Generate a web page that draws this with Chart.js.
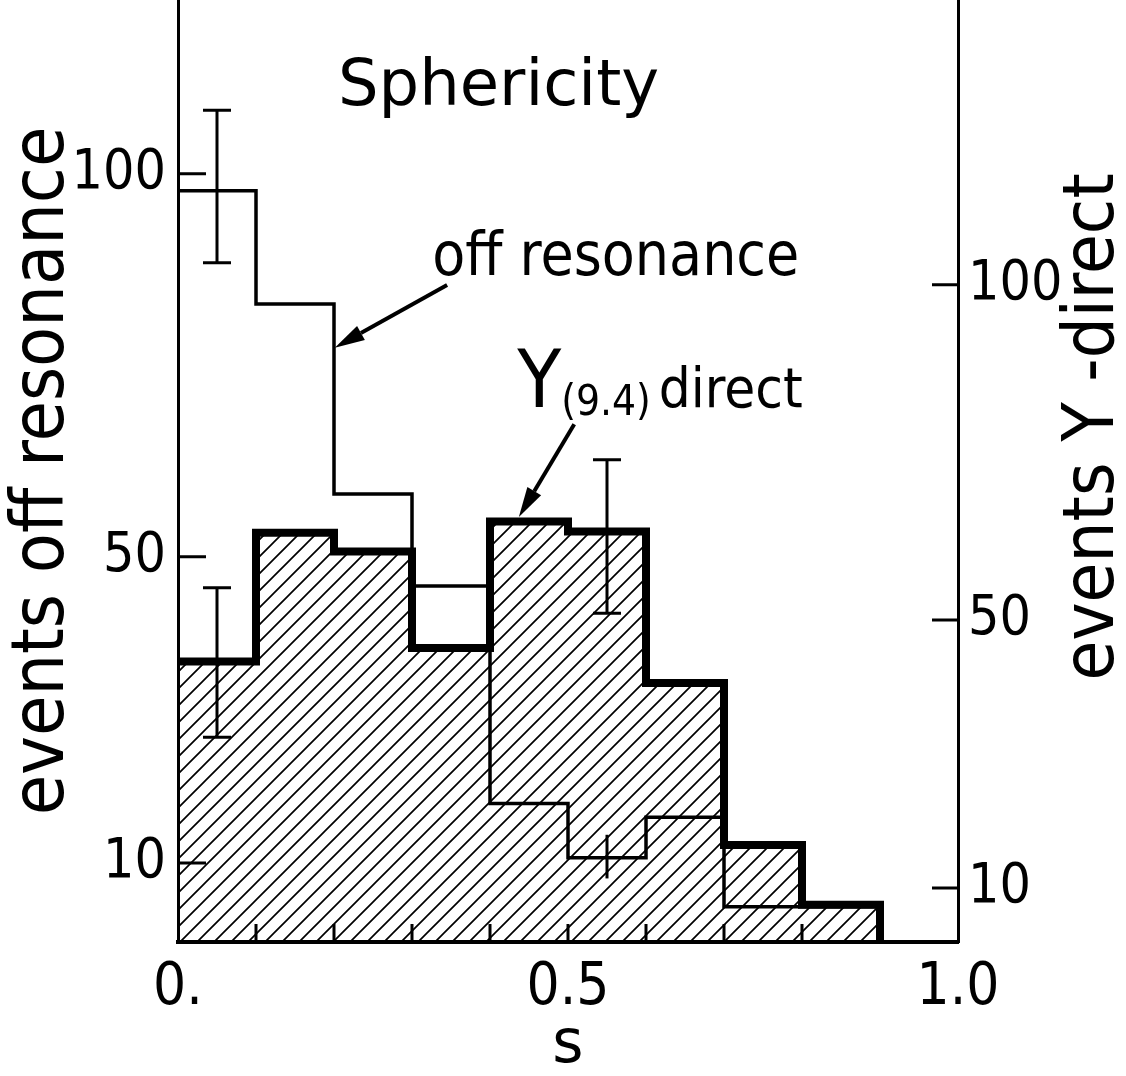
<!DOCTYPE html>
<html>
<head>
<meta charset="utf-8">
<script src="https://cdn.jsdelivr.net/npm/chart.js@4.4.1/dist/chart.umd.min.js"></script>
<style>
html, body { margin: 0; padding: 0; background: #fff; }
#wrap { width: 1126px; height: 1076px; }
</style>
</head>
<body>
<div id="wrap"><canvas id="sphericity"></canvas></div>
<script>
// Bin edges in sphericity s (bins are 0.1 wide).
var binEdges = [ 0, 0.1, 0.2, 0.3, 0.4, 0.5, 0.6, 0.7, 0.8, 0.9, 1.0 ];

// Events per bin, off resonance (left axis).
var offResonance = [ 97.8, 83.0, 58.2, 46.2, 17.8, 10.7, 16.0, 4.3, 4.3, 0 ];

// Events per bin, Upsilon(9.4) direct (right axis).
var upsilonDirect = [ 43.8, 63.0, 60.2, 45.8, 64.7, 63.2, 40.6, 16.4, 7.5, 0 ];

// Error bars: position in s, axis, low and high end.
var errS    = [ 0.05, 0.05, 0.55, 0.55 ];
var errAxis = [ 'y', 'y1', 'y1', 'y' ];
var errLow  = [ 88.4, 32.5, 51.0, 8.0 ];
var errHigh = [ 108.3, 54.8, 73.9, 13.7 ];
var errCap  = [ true, true, true, false ];

// Tick labels.
var leftTicks   = [ 10, 50, 100 ];
var rightTicks  = [ 10, 50, 100 ];
var xTicks      = [ 0, 0.5, 1.0 ];
var xTickLabels = [ '0.', '0.5', '1.0' ];

var titleText  = 'Sphericity';
var leftTitle  = 'events off resonance';
var rightTitle = 'events \u03A5 -direct';
var xTitle     = 's';

var FONT      = "'DejaVu Sans Condensed', 'DejaVu Sans', sans-serif";
var TICK_FONT = "'Liberation Sans Narrow', 'DejaVu Sans Condensed', 'DejaVu Sans', sans-serif";

// Turn bin values into step points (left edge of each bin, plus a closing point).
function histPoints( values ) {
	var last = values.length - 1;
	while ( last > 0 && values[ last ] === 0 ) {
		last--;
	}
	var pts = [];
	for ( var i = 0; i <= last; i++ ) {
		pts.push( { x: binEdges[ i ], y: values[ i ] } );
	}
	pts.push( { x: binEdges[ last + 1 ], y: 0 } );
	return pts;
}

// Diagonal hatching for the direct histogram.
function makeHatch() {
	var size = 17;
	var c    = document.createElement( 'canvas' );
	c.width  = size;
	c.height = size;
	var g = c.getContext( '2d' );
	g.strokeStyle = '#000';
	g.lineWidth   = 1.7;
	g.beginPath();
	g.moveTo( -2, size + 2 );
	g.lineTo( size + 2, -2 );
	g.moveTo( -2, 2 );
	g.lineTo( 2, -2 );
	g.moveTo( size - 2, size + 2 );
	g.lineTo( size + 2, size - 2 );
	g.stroke();
	return g.createPattern( c, 'repeat' );
}

function arrow( ctx, x1, y1, x2, y2 ) {
	var ang = Math.atan2( y2 - y1, x2 - x1 );
	var len = 30, half = 8;
	var bx  = x2 - len * Math.cos( ang );
	var by  = y2 - len * Math.sin( ang );
	ctx.lineWidth = 4;
	ctx.beginPath();
	ctx.moveTo( x1, y1 );
	ctx.lineTo( bx, by );
	ctx.stroke();
	ctx.beginPath();
	ctx.moveTo( x2, y2 );
	ctx.lineTo( bx + half * Math.sin( ang ), by - half * Math.cos( ang ) );
	ctx.lineTo( bx - half * Math.sin( ang ), by + half * Math.cos( ang ) );
	ctx.closePath();
	ctx.fill();
}

var decorations = {
	id: 'decorations',
	afterDatasetsDraw: function ( chart ) {
		var ctx  = chart.ctx;
		var area = chart.chartArea;
		var sx   = chart.scales.x;
		ctx.save();
		ctx.strokeStyle = '#000';
		ctx.lineCap     = 'butt';

		// Inward ticks.
		ctx.lineWidth = 3;
		ctx.beginPath();
		leftTicks.forEach( function ( v ) {
			var p = chart.scales.y.getPixelForValue( v );
			ctx.moveTo( area.left, p );
			ctx.lineTo( area.left + 28, p );
		} );
		rightTicks.forEach( function ( v ) {
			var p = chart.scales.y1.getPixelForValue( v );
			ctx.moveTo( area.right - 26, p );
			ctx.lineTo( area.right, p );
		} );
		binEdges.forEach( function ( s ) {
			if ( s <= 0 || s >= 1 ) {
				return;
			}
			var p = sx.getPixelForValue( s );
			ctx.moveTo( p, area.bottom );
			ctx.lineTo( p, area.bottom - 18 );
		} );
		ctx.stroke();

		// Error bars.
		for ( var i = 0; i < errS.length; i++ ) {
			var sc  = chart.scales[ errAxis[ i ] ];
			var px  = sx.getPixelForValue( errS[ i ] );
			var top = sc.getPixelForValue( errHigh[ i ] );
			var bot = sc.getPixelForValue( errLow[ i ] );
			ctx.beginPath();
			ctx.moveTo( px, top );
			ctx.lineTo( px, bot );
			if ( errCap[ i ] ) {
				ctx.moveTo( px - 14, top );
				ctx.lineTo( px + 14, top );
				ctx.moveTo( px - 14, bot );
				ctx.lineTo( px + 14, bot );
			}
			ctx.stroke();
		}
		ctx.restore();
	},
	afterDraw: function ( chart ) {
		var ctx = chart.ctx;
		var sx  = chart.scales.x;
		var sy  = chart.scales.y;
		function px( s ) { return sx.getPixelForValue( s ); }
		function py( v ) { return sy.getPixelForValue( v ); }

		ctx.save();
		ctx.fillStyle    = '#000';
		ctx.strokeStyle  = '#000';
		ctx.textAlign    = 'left';
		ctx.textBaseline = 'alphabetic';

		ctx.font = "64px 'DejaVu Sans', sans-serif";
		ctx.fillText( titleText, px( 0.205 ), py( 109.0 ) );

		ctx.font = '60px ' + FONT;
		ctx.fillText( 'off resonance', px( 0.326 ), py( 86.8 ) );

		var x0 = px( 0.435 ), y0 = py( 69.6 );
		ctx.font = '80px ' + FONT;
		ctx.fillText( '\u03A5', x0, y0 );
		x0 += ctx.measureText( '\u03A5' ).width;
		ctx.font = '42px ' + FONT;
		ctx.fillText( '(9.4)', x0, y0 + 8 );
		x0 += ctx.measureText( '(9.4)' ).width + 8;
		ctx.font = '56px ' + FONT;
		ctx.fillText( 'direct', x0, y0 );

		arrow( ctx, px( 0.345 ), py( 85.5 ), px( 0.201 ), py( 77.3 ) );
		arrow( ctx, px( 0.508 ), py( 67.3 ), px( 0.437 ), py( 55.2 ) );

		// Right axis title reads bottom to top, like the left one.
		ctx.translate( chart.width - 13, chart.scales.y1.getPixelForValue( 78.8 ) );
		ctx.rotate( -Math.PI / 2 );
		ctx.textAlign = 'center';
		ctx.font = '72px ' + FONT;
		ctx.fillText( rightTitle, 0, 0 );
		ctx.restore();
	},
};

var config = {
	type: 'line',
	data: {
		datasets: [
			{
				label: 'direct',
				data: histPoints( upsilonDirect ),
				yAxisID: 'y1',
				stepped: true,
				borderColor: '#000',
				borderWidth: 8,
				borderJoinStyle: 'miter',
				backgroundColor: makeHatch(),
				fill: 'start',
				pointRadius: 0,
				clip: 0,
				order: 0,
			},
			{
				label: 'off resonance',
				data: histPoints( offResonance ),
				yAxisID: 'y',
				stepped: true,
				borderColor: '#000',
				borderWidth: 3.5,
				borderJoinStyle: 'miter',
				fill: false,
				pointRadius: 0,
				clip: 0,
				order: 1,
			},
		],
	},
	plugins: [ decorations ],
	options: {
		responsive: true,
		maintainAspectRatio: false,
		animation: false,
		events: [],
		layout: { padding: 0 },
		plugins: {
			legend: { display: false },
			tooltip: { enabled: false },
			filler: { drawTime: 'beforeDatasetsDraw' },
		},
		scales: {
			x: {
				type: 'linear',
				position: 'bottom',
				min: 0,
				max: 1,
				afterBuildTicks: function ( scale ) {
					scale.ticks = xTicks.map( function ( v ) { return { value: v }; } );
				},
				afterFit: function ( scale ) {
					scale.height = 134;
					scale.paddingLeft = 0;
					scale.paddingRight = 0;
				},
				grid: { display: false, drawTicks: false },
				border: { display: true, color: '#000', width: 4 },
				ticks: {
					autoSkip: false,
					maxRotation: 0,
					minRotation: 0,
					padding: 12,
					color: '#000',
					font: { family: TICK_FONT, size: 58 },
					callback: function ( value ) {
						var i = xTicks.indexOf( value );
						return i >= 0 ? xTickLabels[ i ] : '';
					},
				},
				title: {
					display: true,
					text: xTitle,
					color: '#000',
					font: { family: "'DejaVu Sans', sans-serif", size: 60, lineHeight: 1 },
					padding: 0,
				},
			},
			y: {
				type: 'linear',
				position: 'left',
				min: -0.3,
				max: 122.7,
				afterBuildTicks: function ( scale ) {
					scale.ticks = leftTicks.map( function ( v ) { return { value: v }; } );
				},
				afterFit: function ( scale ) {
					scale.width = 178;
					scale.paddingTop = 0;
					scale.paddingBottom = 0;
				},
				grid: { display: false, drawTicks: false },
				border: { display: true, color: '#000', width: 3 },
				ticks: {
					padding: 12,
					color: '#000',
					font: { family: TICK_FONT, size: 55 },
				},
				title: {
					display: true,
					text: leftTitle,
					color: '#000',
					font: { family: FONT, size: 73 },
					padding: 0,
				},
			},
			y1: {
				type: 'linear',
				position: 'right',
				min: 1.94,
				max: 142.5,
				afterBuildTicks: function ( scale ) {
					scale.ticks = rightTicks.map( function ( v ) { return { value: v }; } );
				},
				afterFit: function ( scale ) {
					scale.width = 168;
					scale.paddingTop = 0;
					scale.paddingBottom = 0;
				},
				grid: { display: false, drawTicks: false },
				border: { display: true, color: '#000', width: 3 },
				ticks: {
					padding: 10,
					color: '#000',
					font: { family: TICK_FONT, size: 55 },
				},
			},
		},
	},
};

window.sphericityChart = new Chart( document.getElementById( 'sphericity' ), config );
</script>
</body>
</html>
